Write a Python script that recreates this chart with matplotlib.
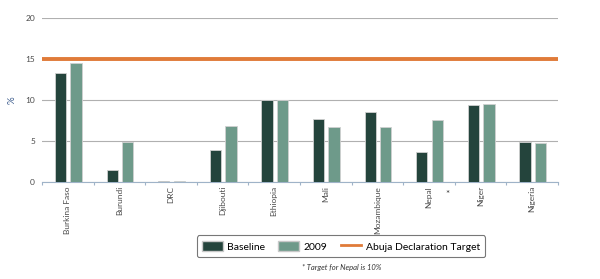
import matplotlib.pyplot as plt
import numpy as np
from matplotlib.lines import Line2D
from matplotlib.patches import Patch

plt.rcParams['font.family'] = ['Lato', 'DejaVu Sans']

countries = ["Burkina Faso", "Burundi", "DRC", "Djibouti", "Ethiopia", "Mali",
             "Mozambique", "Nepal", "Niger", "Nigeria"]
baseline = [13.3, 1.4, 0.05, 3.9, 10.0, 7.7, 8.5, 3.6, 9.4, 4.9]
y2009 = [14.5, 4.9, 0.05, 6.8, 10.0, 6.7, 6.7, 7.5, 9.5, 4.7]
target = 15

dark = "#24443c"
light = "#6e9a8a"
orange = "#e07b39"
grey = "#4a4a4a"

fig = plt.figure(figsize=(6, 2.79), dpi=100)
ax = fig.add_axes([0.07, 0.348, 0.86, 0.587])

x = np.arange(len(countries))
w = 0.22
ax.bar(x - 0.14, baseline, w, color=dark, edgecolor="#d0d0d0", linewidth=0.6, zorder=3)
ax.bar(x + 0.16, y2009, w, color=light, edgecolor="#d0d0d0", linewidth=0.6, zorder=3)
ax.axhline(target, color=orange, lw=2.8, zorder=4)

ax.set_xlim(-0.5, len(countries) - 0.5)
ax.set_ylim(0, 20)
ax.set_yticks([0, 5, 10, 15, 20])
ax.yaxis.grid(True, color="#b0b0b0", lw=0.8, zorder=0)
for s in ["top", "right", "left"]:
    ax.spines[s].set_visible(False)
ax.spines["bottom"].set_color("#9fb3c8")
ax.spines["bottom"].set_linewidth(0.8)
ax.tick_params(axis="y", length=0, labelsize=6, labelcolor=grey, pad=5)

ax.set_xticks(np.arange(len(countries) + 1) - 0.5)
ax.set_xticklabels([])
ax.tick_params(axis="x", length=2, color="#9fb3c8")
ax.set_xticks(x, minor=True)
ax.set_xticklabels(countries, minor=True, rotation=90, fontsize=6, color=grey)
ax.tick_params(axis="x", which="minor", length=0, pad=3)

ax.set_ylabel("%", color="#3a5a8c", fontsize=7, labelpad=6)

ax.text(7.35, -1.0, "*", ha="center", va="top", fontsize=7, color="#333333")

handles = [Patch(facecolor=dark, edgecolor="#c8c8c8"),
           Patch(facecolor=light, edgecolor="#c8c8c8"),
           Line2D([], [], color=orange, lw=2)]
leg = fig.legend(handles, ["Baseline", "2009", "Abuja Declaration Target"],
                 loc="center", bbox_to_anchor=(0.568, 0.118), ncol=3, fontsize=7.5,
                 frameon=True, fancybox=True, edgecolor="#555555",
                 handlelength=2.0, handleheight=1.2, columnspacing=1.3,
                 handletextpad=0.4, borderpad=0.5)
leg.get_frame().set_linewidth(0.8)

fig.text(0.57, 0.04, "* Target for Nepal is 10%", ha="center", va="center",
         fontsize=5.5, style="italic", color="#333333")

fig.savefig("out.png", dpi=100)
